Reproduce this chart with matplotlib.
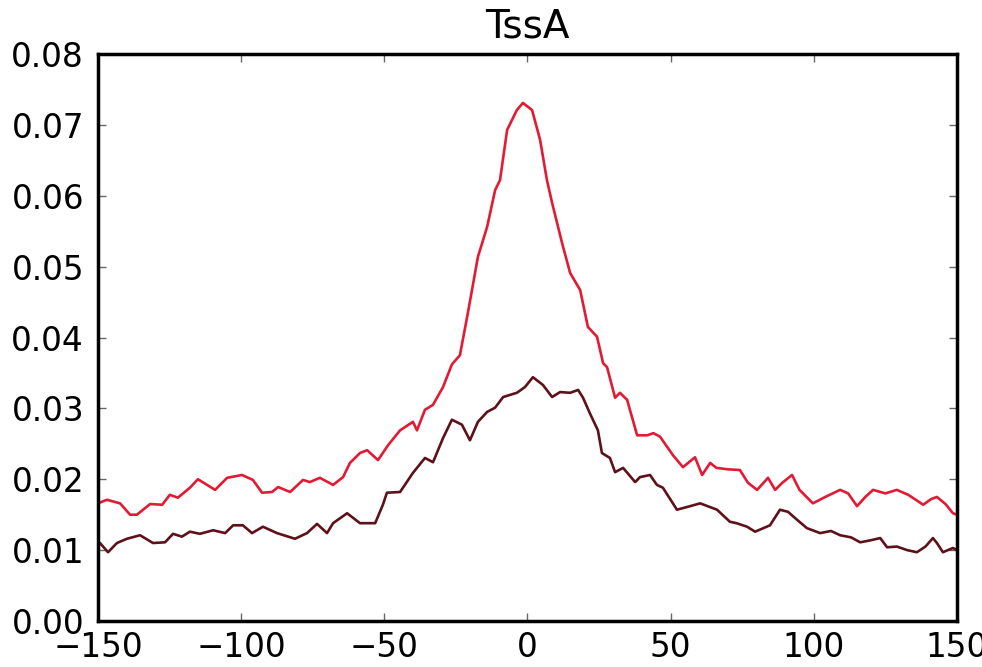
import matplotlib
matplotlib.use("Agg")
import matplotlib.pyplot as plt

red_x = [-150, -146.9, -142.3, -138.8, -136.4, -131.8, -127.6, -124.9, -122.1, -117.9,
         -115.1, -109.1, -104.9, -99.7, -95.9, -92.7, -89.2, -87.1, -82.9, -78.4,
         -76, -72.5, -67.9, -64.4, -62, -58.5, -56, -52.2, -48.7, -44.5,
         -40, -38.6, -35.8, -33, -29.5, -26.4, -23.6, -20.8, -17.3, -14.1,
         -11.3, -9.6, -7.1, -3.7, -1.6, 1.6, 4.4, 6.8, 8.6, 12.1,
         14.9, 18.4, 21.1, 24.3, 26.4, 27.8, 30.6, 32.3, 34.8, 38.3,
         41.8, 44, 46.3, 50.8, 54.3, 58.5, 61, 63.8, 66, 70,
         74.2, 77, 80.2, 84, 86.5, 89, 92.4, 95, 99.7, 104,
         109.2, 112, 115.1, 118, 120.7, 125, 129, 133, 136, 138.2,
         141, 143, 146, 148.6, 150]
red_y = [0.0166, 0.0171, 0.0166, 0.0150, 0.0150, 0.0165, 0.0164, 0.0178, 0.0174, 0.0188,
         0.0200, 0.0185, 0.0202, 0.0206, 0.0199, 0.0181, 0.0182, 0.0189, 0.0182, 0.0199,
         0.0196, 0.0202, 0.0192, 0.0203, 0.0223, 0.0237, 0.0241, 0.0227, 0.0248, 0.0269,
         0.0281, 0.0269, 0.0298, 0.0305, 0.0330, 0.0362, 0.0375, 0.0435, 0.0514, 0.0556,
         0.0608, 0.0622, 0.0693, 0.0721, 0.0731, 0.0721, 0.0679, 0.0622, 0.0590, 0.0533,
         0.0491, 0.0467, 0.0415, 0.0401, 0.0364, 0.0358, 0.0315, 0.0322, 0.0312, 0.0262,
         0.0262, 0.0265, 0.0260, 0.0234, 0.0217, 0.0231, 0.0206, 0.0223, 0.0216, 0.0214,
         0.0213, 0.0195, 0.0185, 0.0202, 0.0185, 0.0195, 0.0206, 0.0185, 0.0166, 0.0175,
         0.0185, 0.0180, 0.0162, 0.0175, 0.0185, 0.0180, 0.0185, 0.0178, 0.0170, 0.0164,
         0.0172, 0.0175, 0.0165, 0.0152, 0.0150]

dark_x = [-150, -149.3, -146.5, -143.4, -139.9, -135.3, -130.8, -126.6, -123.8, -120.7,
          -117.9, -114.4, -109.8, -105.6, -102.8, -99.4, -96.2, -92.4, -87.5, -81.2,
          -77, -73.5, -70, -67.9, -63, -58.5, -53.2, -50.5, -49.1, -44.5,
          -40, -35.8, -33, -29.5, -26.4, -22.9, -20.1, -17.3, -14.1, -11.3,
          -8.5, -3.7, -0.9, 1.9, 5.4, 8.6, 11.4, 14.9, 17.7, 19.4,
          21.8, 24.6, 26, 28.8, 30.6, 33.4, 37.6, 39.3, 42.8, 45.2,
          47.3, 52.2, 56.8, 60.3, 66.2, 70.7, 73, 76.7, 79.5, 84.7,
          88.2, 91, 94.1, 97.6, 102.2, 106, 109.2, 113, 116.2, 120,
          123.2, 125.6, 129, 132.6, 136, 139, 141.6, 143, 145.1, 148.6,
          150]
dark_y = [0.0105, 0.0110, 0.0097, 0.0110, 0.0116, 0.0121, 0.0110, 0.0111, 0.0123, 0.0119,
          0.0126, 0.0123, 0.0128, 0.0124, 0.0135, 0.0135, 0.0124, 0.0133, 0.0124, 0.0116,
          0.0124, 0.0137, 0.0124, 0.0138, 0.0152, 0.0138, 0.0138, 0.0164, 0.0181, 0.0182,
          0.0209, 0.0230, 0.0224, 0.0258, 0.0284, 0.0277, 0.0255, 0.0281, 0.0295, 0.0301,
          0.0316, 0.0322, 0.0330, 0.0344, 0.0333, 0.0316, 0.0323, 0.0322, 0.0326, 0.0315,
          0.0293, 0.0269, 0.0237, 0.0230, 0.0210, 0.0216, 0.0196, 0.0203, 0.0206, 0.0192,
          0.0188, 0.0157, 0.0162, 0.0166, 0.0157, 0.0140, 0.0138, 0.0133, 0.0126, 0.0135,
          0.0157, 0.0154, 0.0143, 0.0131, 0.0124, 0.0127, 0.0121, 0.0118, 0.0111, 0.0114,
          0.0117, 0.0104, 0.0105, 0.0100, 0.0097, 0.0105, 0.0117, 0.0110, 0.0097, 0.0103,
          0.0100]

xticks = [-150, -100, -50, 0, 50, 100, 150]
yticks = [0.00, 0.01, 0.02, 0.03, 0.04, 0.05, 0.06, 0.07, 0.08]

red = '#e31a33'
dark = '#5e1119'

fig = plt.figure(figsize=(9.82, 6.67), dpi=100)
ax = fig.add_axes([0.0998, 0.069, 0.8747, 0.85])

ax.plot(red_x, red_y, color=red, lw=1.9)
ax.plot(dark_x, dark_y, color=dark, lw=1.9)

ax.set_xlim(-150, 150)
ax.set_ylim(0, 0.08)
ax.set_xticks(xticks)
ax.set_yticks(yticks)
ax.set_yticklabels(["%.2f" % v for v in yticks])
ax.tick_params(direction='in', length=6, width=1, color='#666666',
               top=True, right=True, labelsize=23.5)
ax.tick_params(axis='x', pad=7)
ax.tick_params(axis='y', pad=10)
for s in ax.spines.values():
    s.set_linewidth(2.5)
ax.set_title("TssA", fontsize=28, pad=12)

fig.savefig("out.png", dpi=100)
